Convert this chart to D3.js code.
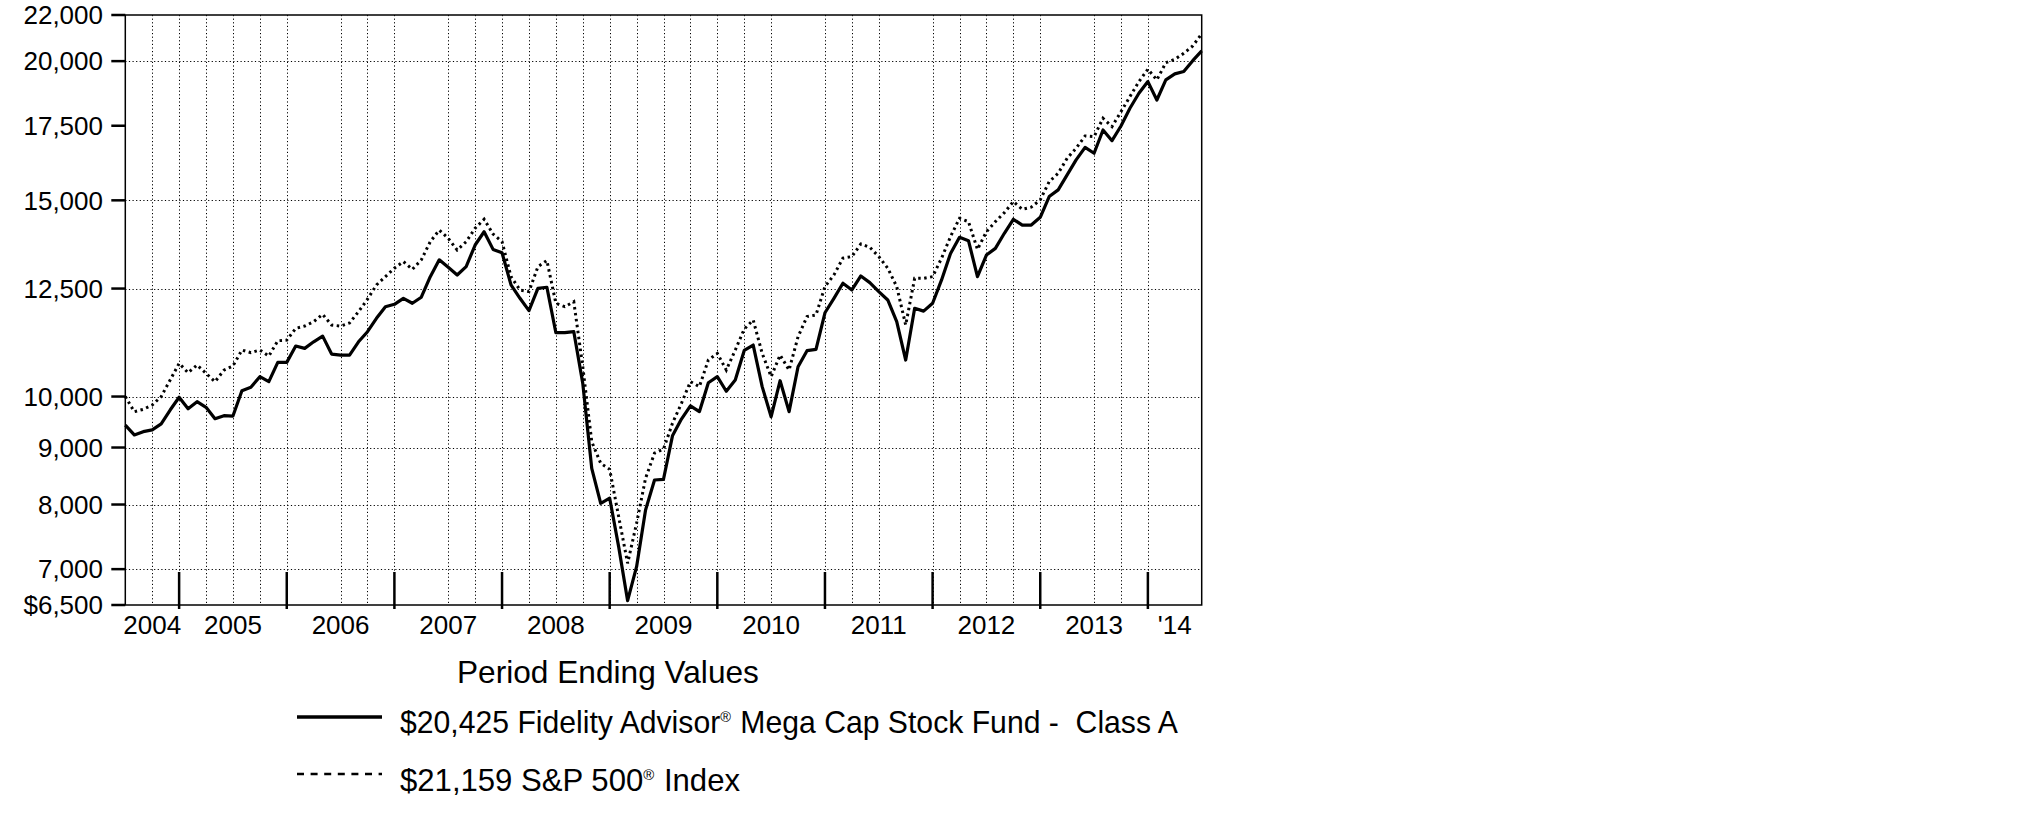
<!DOCTYPE html>
<html>
<head>
<meta charset="utf-8">
<script src="https://cdn.jsdelivr.net/npm/d3@7/dist/d3.min.js"></script>
<style>
  html, body { margin: 0; padding: 0; background: #fff; }
  svg { display: block; }
  text { fill: #000; }
</style>
</head>
<body>
<svg id="chart" width="2025" height="828"></svg>
<script>
// ---------- data (monthly, Jun 2004 – Jun 2014, index 0..120) ----------
const fundValues = [
  9425, 9237, 9300, 9333, 9450, 9725, 9985, 9752, 9894, 9780, 9552, 9612,
  9605, 10122, 10193, 10419, 10312, 10732, 10732, 11100, 11047, 11198, 11330, 10917,
  10895, 10895, 11198, 11434, 11755, 12040, 12100, 12251, 12126, 12278, 12812, 13264,
  13062, 12856, 13078, 13677, 14057, 13554, 13460, 12594, 12251, 11942, 12507, 12533,
  11410, 11410, 11434, 10276, 8619, 8020, 8105, 7333, 6558, 7036, 7911, 8416,
  8428, 9220, 9545, 9810, 9692, 10290, 10419, 10110, 10347, 11000, 11123, 10207,
  9592, 10333, 9692, 10636, 10994, 11024, 11890, 12251, 12638, 12464, 12829, 12655,
  12421, 12209, 11673, 10784, 12001, 11930, 12126, 12726, 13441, 13897, 13801, 12812,
  13397, 13583, 14013, 14424, 14253, 14253, 14484, 15118, 15328, 15808, 16306, 16735,
  16532, 17348, 16968, 17492, 18145, 18714, 19172, 18457, 19238, 19478, 19573, 20018,
  20425
];
const indexValues = [
  10000, 9692, 9739, 9826, 10000, 10347, 10710, 10505, 10673, 10491, 10312, 10560,
  10651, 11009, 10948, 11009, 10872, 11222, 11237, 11513, 11568, 11673, 11852, 11592,
  11568, 11641, 11917, 12228, 12594, 12812, 13036, 13217, 13007, 13264, 13772, 14105,
  13868, 13537, 13772, 14158, 14424, 13990, 13772, 12812, 12464, 12421, 13078, 13245,
  12126, 12040, 12164, 10636, 9110, 8711, 8603, 7803, 7085, 7696, 8446, 8895,
  8970, 9462, 9861, 10312, 10207, 10784, 10933, 10563, 11009, 11497, 11715, 10933,
  10419, 10895, 10563, 11315, 11796, 11837, 12551, 12856, 13310, 13354, 13707, 13612,
  13354, 13036, 12551, 11592, 12767, 12767, 12812, 13310, 13916, 14454, 14353, 13554,
  14057, 14355, 14622, 14962, 14723, 14790, 15014, 15590, 15862, 16362, 16705, 17133,
  17110, 17773, 17469, 18016, 18586, 19172, 19667, 19238, 19935, 20072, 20324, 20636,
  21159
];
const yearLabels = ["2004", "2005", "2006", "2007", "2008", "2009", "2010", "2011", "2012", "2013", "'14"];
const yearLabelMonths = [3, 12, 24, 36, 48, 60, 72, 84, 96, 108, 117];
const yearTickMonths = [6, 18, 30, 42, 54, 66, 78, 90, 102, 114];
const gridMonths = [3, 6, 9, 12, 15, 18, 24, 27, 30, 36, 39, 42, 45, 48, 51, 54, 57, 60,
                    63, 66, 69, 72, 78, 81, 84, 90, 93, 96, 99, 102, 108, 111, 114];
const yTickValues = [6500, 7000, 8000, 9000, 10000, 12500, 15000, 17500, 20000, 22000];
const yGridValues = [7000, 8000, 9000, 10000, 12500, 15000, 20000];
const legendTitle = "Period Ending Values";
const legendFund = ["$20,425 Fidelity Advisor", "\u00AE", " Mega Cap Stock Fund -  Class A"];
const legendIndex = ["$21,159 S&P 500", "\u00AE", " Index"];

// ---------- layout ----------
const L = 125.3, R = 1201.7, T = 15, B = 605;
const svg = d3.select("#chart");
const AXFONT = "'Liberation Sans', Arial, sans-serif";

const x = d3.scaleLinear().domain([0, 120]).range([L, R]);
const y = d3.scaleLog().domain([6500, 22000]).range([B, T]);

// grid
const grid = svg.append("g").attr("stroke", "#000").attr("stroke-width", 1)
  .attr("stroke-dasharray", "1.2,2.4").attr("fill", "none");
grid.selectAll("line.h").data(yGridValues).join("line").attr("class", "h")
  .attr("x1", L).attr("x2", R).attr("y1", d => Math.round(y(d)) + 0.5).attr("y2", d => Math.round(y(d)) + 0.5);
grid.selectAll("line.v").data(gridMonths).join("line").attr("class", "v")
  .attr("y1", T).attr("y2", B).attr("x1", d => Math.round(x(d)) + 0.5).attr("x2", d => Math.round(x(d)) + 0.5);

// frame
svg.append("rect").attr("x", L).attr("y", T).attr("width", R - L).attr("height", B - T)
  .attr("fill", "none").attr("stroke", "#000").attr("stroke-width", 1.5);

// y axis ticks & labels
const fmt = d3.format(",");
const yAxis = svg.append("g");
yAxis.selectAll("line").data(yTickValues).join("line")
  .attr("x1", L - 14).attr("x2", L).attr("y1", d => y(d)).attr("y2", d => y(d))
  .attr("stroke", "#000").attr("stroke-width", 2.5);
yAxis.selectAll("text").data(yTickValues).join("text")
  .attr("x", 103).attr("y", d => y(d)).attr("dy", "0.36em")
  .attr("text-anchor", "end").attr("font-family", AXFONT).attr("font-size", 26)
  .text((d, i) => (i === 0 ? "$" : "") + fmt(d));

// x axis year ticks & labels
const xAxis = svg.append("g");
xAxis.selectAll("line").data(yearTickMonths).join("line")
  .attr("x1", d => x(d)).attr("x2", d => x(d)).attr("y1", 572).attr("y2", 609)
  .attr("stroke", "#000").attr("stroke-width", 2.5);
xAxis.selectAll("text").data(yearLabels).join("text")
  .attr("x", (d, i) => x(yearLabelMonths[i])).attr("y", 634)
  .attr("text-anchor", "middle").attr("font-family", AXFONT).attr("font-size", 26)
  .text(d => d);

// lines
const line = d3.line().x((d, i) => x(i)).y(d => y(d));
svg.append("path").datum(indexValues).attr("d", line)
  .attr("fill", "none").attr("stroke", "#000").attr("stroke-width", 3)
  .attr("stroke-dasharray", "2.5,3.5");
svg.append("path").datum(fundValues).attr("d", line)
  .attr("fill", "none").attr("stroke", "#000").attr("stroke-width", 3.2)
  .attr("stroke-linejoin", "round");

// legend: text pieces laid out sequentially, then horizontally scaled to reference width
function legendText(parts, x0, baseline, targetWidth, size) {
  const g = svg.append("g");
  const inner = g.append("g");
  let cx = 0;
  parts.forEach((p, i) => {
    const sup = p === "\u00AE";
    const t = inner.append("text").attr("x", cx).attr("y", sup ? -size * 0.36 : 0)
      .attr("font-family", AXFONT).attr("font-size", sup ? size * 0.48 : size)
      .style("white-space", "pre").text(p);
    cx += t.node().getComputedTextLength() + (sup ? 1 : 0);
  });
  const sx = targetWidth / cx;
  inner.attr("transform", `scale(${sx},1)`);
  g.attr("transform", `translate(${x0},${baseline})`);
  return g;
}
legendText([legendTitle], 457, 683, 302, 31);

svg.append("line").attr("x1", 297).attr("x2", 382).attr("y1", 717).attr("y2", 717)
  .attr("stroke", "#000").attr("stroke-width", 3.5);
legendText(legendFund, 400, 733, 778, 31);

svg.append("line").attr("x1", 297).attr("x2", 382).attr("y1", 774).attr("y2", 774)
  .attr("stroke", "#000").attr("stroke-width", 2.5).attr("stroke-dasharray", "7,6.6");
legendText(legendIndex, 400, 791, 340, 31);
</script>
</body>
</html>
